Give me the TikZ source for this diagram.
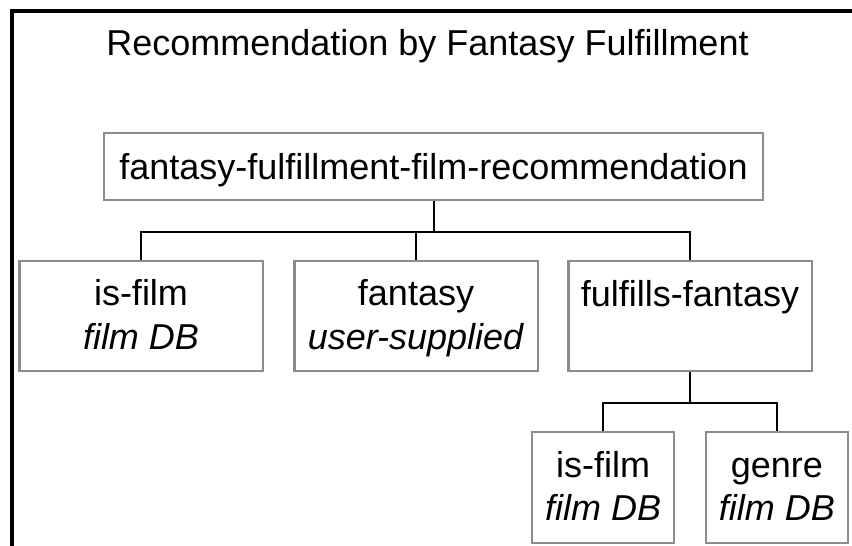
\documentclass[tikz,border=0pt]{standalone}
\usepackage{fontspec}
\setmainfont{Liberation Sans}
\definecolor{boxgray}{RGB}{140,140,140}
\begin{document}
\begin{tikzpicture}[x=1pt,y=-1pt,
  txt/.style={font=\fontsize{36}{43.2}\selectfont},
  box/.style={txt,draw=boxgray,line width=2.5pt,inner sep=0pt,align=center},
  lone/.style={box,minimum width=243.5pt,minimum height=110pt,text height=69.2pt,text depth=3pt},
  loneone/.style={box,minimum width=243.5pt,minimum height=110pt,text height=26pt,text depth=46pt},
  ltwo/.style={box,minimum width=142pt,minimum height=111pt,text height=69.2pt,text depth=3pt},
  conn/.style={draw=black,line width=2pt}]
\useasboundingbox (0,0) rectangle (852,546);
\fill[white] (0,0) rectangle (852,546);
\draw[line width=4pt] (12,560) -- (12,11) -- (870,11);
\node[txt,anchor=base,inner sep=0pt] (title) at (427.5,55) {Recommendation by Fantasy Fulfillment};
\node[box,minimum width=659pt,minimum height=67pt,text height=26pt,text depth=1pt] (root) at (433.5,166.5) {fantasy-fulfillment-film-recommendation};
\node[lone] (isfilm) at (141,316) {is-film\\\textit{film DB}};
\node[lone] (fantasy) at (416,316) {fantasy\\\textit{user-supplied}};
\node[loneone] (fulfills) at (690,316) {fulfills-fantasy};
\node[ltwo] (isfilmb) at (603.2,487.4) {is-film\\\textit{film DB}};
\node[ltwo] (genre) at (776.9,487.4) {genre\\\textit{film DB}};
\draw[conn] (root.south) -- ++(0,30.5) -| (isfilm.north);
\draw[conn] (root.south) -- ++(0,30.5) -| (fantasy.north);
\draw[conn] (root.south) -- ++(0,30.5) -| (fulfills.north);
\draw[conn] (fulfills.south) -- ++(0,30.5) -| (isfilmb.north);
\draw[conn] (fulfills.south) -- ++(0,30.5) -| (genre.north);
\end{tikzpicture}
\end{document}
